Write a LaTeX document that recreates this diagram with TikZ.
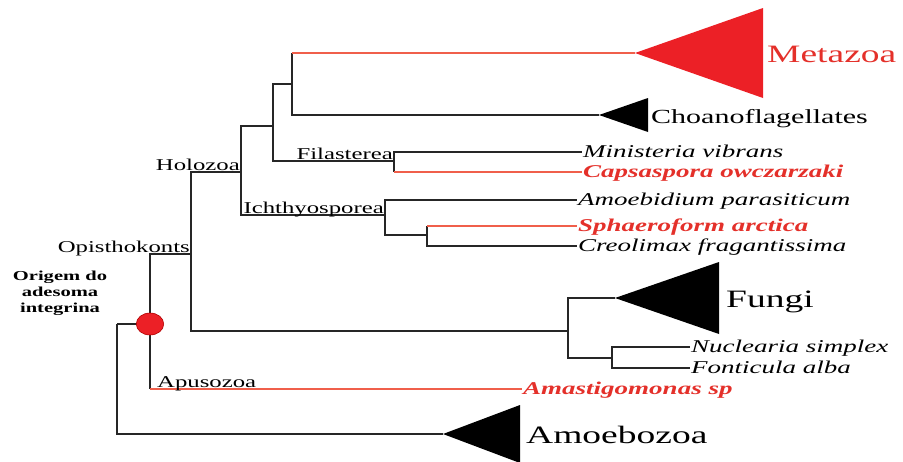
\documentclass[tikz,border=0pt]{standalone}
\usepackage{fontspec}
\setmainfont[FakeStretch=1.5]{Liberation Serif}
\usetikzlibrary{positioning}
\definecolor{branchred}{RGB}{240,95,75}
\definecolor{cladered}{RGB}{236,32,38}
\definecolor{labelred}{RGB}{228,48,42}

\begin{document}
\begin{tikzpicture}[x=1pt, y=-1pt,
			branch/.style={line width=1.4pt, black!85},
			redbranch/.style={line width=1.1pt, branchred},
			taxon/.style={anchor=west, inner sep=1pt, text height=13pt, text depth=3pt, font=\fontsize{18}{20}\selectfont\itshape},
			redtaxon/.style={taxon, text=labelred, font=\fontsize{18}{20}\selectfont\bfseries\itshape},
			bigname/.style={inner sep=1pt, text height=20pt, text depth=2pt, font=\fontsize{25}{28}\selectfont},
			cladename/.style={inner sep=1pt, font=\fontsize{16.5}{18}\selectfont}]
			\useasboundingbox (0,0) rectangle (903,461);
			\clip (0,0) rectangle (903,461);
			
			% internal nodes of the tree
			\coordinate (root) at (117,324);
			\coordinate (adh) at (150,324);
			\coordinate (opis) at (191,254);
			\coordinate (holo) at (241,172);
			\coordinate (filMet) at (273,126);
			\coordinate (choMet) at (292,84);
			\coordinate (fila) at (394,161);
			\coordinate (ichth) at (385,215);
			\coordinate (sphCre) at (427,235);
			\coordinate (funNuc) at (568,331);
			\coordinate (nucFon) at (612,358);
			
			% collapsed clades
			\coordinate (metTip) at (635,53);
			\coordinate (metEnd) at (763,53);
			\fill[cladered] (metTip) -- (763,8) -- (763,98) -- cycle;
			\coordinate (choTip) at (599,115);
			\coordinate (choEnd) at (648,115);
			\fill[black] (choTip) -- (648,98) -- (648,132) -- cycle;
			\coordinate (funTip) at (615,298);
			\coordinate (funEnd) at (719,298);
			\fill[black] (funTip) -- (719,262) -- (719,334) -- cycle;
			\coordinate (amzTip) at (443,434);
			\coordinate (amzEnd) at (520,434);
			\fill[black] (amzTip) -- (520,405) -- (520,463) -- cycle;
			
			\node[bigname, text=labelred, right=3pt of metEnd](metazoa) {Metazoa};
			\node[inner sep=1pt, text height=17pt, text depth=1pt, font=\fontsize{20}{22}\selectfont, right=2pt of choEnd](choano) {Choanoflagellates};
			\node[bigname, right=6pt of funEnd](fungi) {Fungi};
			\node[bigname, right=5pt of amzEnd](amoebozoa) {Amoebozoa};
			
			% species
			\node[taxon](minis) at (582,152) {Ministeria vibrans};
			\node[redtaxon](caps) at (582,172) {Capsaspora owczarzaki};
			\node[taxon](amoeb) at (577,200) {Amoebidium parasiticum};
			\node[redtaxon](sphae) at (577,226) {Sphaeroform arctica};
			\node[taxon](creol) at (577,246) {Creolimax fragantissima};
			\node[taxon, text depth=2pt](nucl) at (690,347) {Nuclearia simplex};
			\node[taxon, text depth=2pt](fonti) at (690,368) {Fonticula alba};
			\node[redtaxon](amast) at (522,389) {Amastigomonas sp};
			
			% branches
			\draw[branch] (root) |- (adh);
			\draw[branch] (root) |- (amzTip);
			\draw[branch] (adh) |- (opis);
			\draw[branch] (adh) -- (adh |- amast.west);
			\draw[redbranch] (adh |- amast.west) -- (amast.west);
			\draw[branch] (opis) |- (holo);
			\draw[branch] (opis) |- (funNuc);
			\draw[branch] (holo) |- (filMet);
			\draw[branch] (holo) |- (ichth);
			\draw[branch] (filMet) |- (choMet);
			\draw[branch] (filMet) |- (fila);
			\draw[branch] (choMet) -- (choMet |- metTip);
			\draw[redbranch] (choMet |- metTip) -- (metTip);
			\draw[branch] (choMet) |- (choTip);
			\draw[branch] (fila) |- (minis.west);
			\draw[branch] (fila) -- (fila |- caps.west);
			\draw[redbranch] (fila |- caps.west) -- (caps.west);
			\draw[branch] (ichth) |- (amoeb.west);
			\draw[branch] (ichth) |- (sphCre);
			\draw[branch] (sphCre) -- (sphCre |- sphae.west);
			\draw[redbranch] (sphCre |- sphae.west) -- (sphae.west);
			\draw[branch] (sphCre) |- (creol.west);
			\draw[branch] (funNuc) |- (funTip);
			\draw[branch] (funNuc) |- (nucFon);
			\draw[branch] (nucFon) |- (nucl.west);
			\draw[branch] (nucFon) |- (fonti.west);
			
			% clade names
			\node[cladename, anchor=base east, yshift=1.5pt](holozoa) at (holo) {Holozoa};
			\node[cladename, anchor=base east, yshift=1.5pt](opisthokonts) at (opis) {Opisthokonts};
			\node[cladename, anchor=base east, yshift=1.5pt](filasterea) at (fila) {Filasterea};
			\node[cladename, anchor=base east, yshift=1.5pt](ichthyo) at (ichth) {Ichthyosporea};
			\node[cladename, anchor=base west, xshift=6pt, yshift=2pt](apusozoa) at (adh |- amast.west) {Apusozoa};
			
			% origin of the adhesome
			\node[fill=cladered, draw=red!70!black, line width=0.6pt, circle, minimum size=22pt, inner sep=0pt, xscale=1.25](adhMark) at (adh) {};
			\node[align=center, font=\fontsize{13.7}{16}\selectfont\bfseries](origin) at (60,293) {Origem do\\adesoma\\integrina};
			
		\end{tikzpicture}
\end{document}
